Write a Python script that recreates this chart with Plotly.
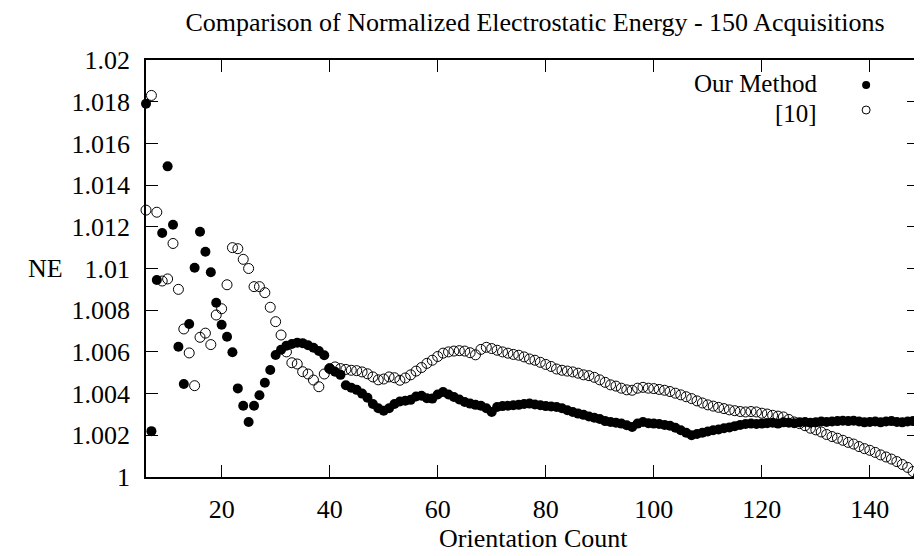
import plotly.graph_objects as go

orientation_count = list(range(6, 150))

our_method = [
    1.0179, 1.0022, 1.00945, 1.0117, 1.0149, 1.0121, 1.00625, 1.00446, 1.00734, 1.01004,
    1.01176, 1.0108, 1.00982, 1.00836, 1.0073, 1.00673, 1.00598, 1.00425, 1.00342, 1.00264,
    1.00342, 1.00392, 1.00452, 1.00513, 1.00585, 1.0061, 1.0063, 1.00638, 1.00644, 1.00642,
    1.00632, 1.0062, 1.00604, 1.00584,
    1.0052, 1.00505, 1.0049, 1.0044, 1.00428, 1.00418, 1.004, 1.0038, 1.0035, 1.0033,
    1.00318, 1.0033, 1.0035, 1.00362, 1.00366, 1.0037, 1.00386, 1.0039, 1.00378, 1.00376,
    1.00396, 1.00408, 1.00396, 1.00384, 1.00372, 1.0036, 1.00352, 1.00346, 1.00342, 1.0033,
    1.00312, 1.00336, 1.0034, 1.00342, 1.00344, 1.00346, 1.0035, 1.00352, 1.00348, 1.00344,
    1.0034, 1.00338, 1.00336, 1.0033, 1.0032, 1.00312, 1.00304, 1.00298, 1.0029, 1.00284,
    1.00278, 1.00268, 1.00264, 1.0026, 1.00256, 1.00248, 1.0024, 1.00256, 1.00264, 1.00258,
    1.00256, 1.00254, 1.0025, 1.00246, 1.00236, 1.00224, 1.00212, 1.002, 1.00206, 1.00212,
    1.00218, 1.00224, 1.00228, 1.00234, 1.00238, 1.00244, 1.0025, 1.00254, 1.00256, 1.00254,
    1.00256, 1.00258, 1.0026, 1.00256, 1.00262, 1.0026, 1.00258, 1.00262, 1.00264, 1.0026,
    1.00262, 1.00266, 1.00264, 1.00266, 1.00268, 1.0027, 1.00268, 1.0027, 1.00266, 1.00262,
    1.00264, 1.00266, 1.00262, 1.00266, 1.00268, 1.00264, 1.00262, 1.00266, 1.00268, 1.00266,
]

ref10 = [
    1.0128, 1.0183, 1.0127, 1.0094, 1.0095, 1.0112, 1.009, 1.0071, 1.00595, 1.00438,
    1.0067, 1.0069, 1.00635, 1.00777, 1.00807, 1.00922, 1.011, 1.01095, 1.01044, 1.01,
    1.00913, 1.00913, 1.00884, 1.00814, 1.00745, 1.00681, 1.006, 1.00548, 1.00542, 1.00505,
    1.00494, 1.00465, 1.00433, 1.00494,
    1.0052, 1.00528, 1.0052, 1.00516, 1.00512, 1.0051, 1.00504, 1.00495, 1.0048, 1.00466,
    1.0047, 1.0048, 1.00476, 1.00464, 1.00475, 1.0049, 1.00508, 1.00525, 1.00545, 1.0056,
    1.00578, 1.00594, 1.006, 1.00604, 1.00606, 1.00604, 1.00596, 1.00586, 1.00612, 1.00622,
    1.00616, 1.00608, 1.006, 1.00594, 1.00588, 1.00584, 1.00576, 1.00566, 1.0056, 1.0055,
    1.0054, 1.0053, 1.00518, 1.00512, 1.00508, 1.00504, 1.00498, 1.0049, 1.00486, 1.00478,
    1.00466, 1.00454, 1.00442, 1.00436, 1.00426, 1.00418, 1.00416, 1.00426, 1.0043, 1.00426,
    1.00424, 1.0042, 1.00416, 1.0041, 1.00402, 1.00394, 1.00385, 1.00376, 1.00365, 1.00355,
    1.00346, 1.0034, 1.00334, 1.00328, 1.00322, 1.00318, 1.00314, 1.00312, 1.00314, 1.00312,
    1.00306, 1.00302, 1.00296, 1.00292, 1.00288, 1.00276, 1.00264, 1.00256, 1.00246, 1.00234,
    1.00226, 1.00216, 1.00204, 1.00194, 1.00186, 1.00176, 1.00166, 1.00158, 1.00146, 1.00136,
    1.00128, 1.00118, 1.00106, 1.00096, 1.00086, 1.00074, 1.0006, 1.00046, 1.00026, 1.00005,
]

x_tick_vals = [20, 40, 60, 80, 100, 120, 140]
y_tick_vals = [1.0, 1.002, 1.004, 1.006, 1.008, 1.01, 1.012, 1.014, 1.016, 1.018, 1.02]
y_tick_text = ["1", "1.002", "1.004", "1.006", "1.008", "1.01", "1.012", "1.014", "1.016", "1.018", "1.02"]

series_names = ["Our Method", "[10]"]

FONT = "Liberation Serif"
FS = 26
LEG_FS = 25

# The page body adds an 8px offset; figure is sized to compensate.
W, H = 914, 548
L, R, T, B = 138, 1, 52, 79
PW, PH = W - L - R, H - T - B  # 775 x 417


def px_x(sx):
    return (sx - 8 - L) / PW


def px_y(sy):
    return (H - B - (sy - 8)) / PH


fig = go.Figure()
fig.add_trace(go.Scatter(
    x=orientation_count, y=our_method, mode="markers", name=series_names[0],
    marker=dict(symbol="circle", size=10, color="black", line=dict(width=0)),
    showlegend=False, cliponaxis=False,
))
fig.add_trace(go.Scatter(
    x=orientation_count, y=ref10, mode="markers", name=series_names[1],
    marker=dict(symbol="circle-open", size=10, color="black", line=dict(width=1)),
    showlegend=False, cliponaxis=False,
))

axis_common = dict(
    showline=True, linecolor="black", linewidth=1.5, mirror="ticks",
    ticks="inside", ticklen=12, tickwidth=1, tickcolor="black",
    showgrid=False, zeroline=False,
    tickfont=dict(family=FONT, size=FS, color="black"),
)

fig.update_xaxes(range=[6, 149.1], tickvals=x_tick_vals, ticklabelstandoff=8, **axis_common)
fig.update_yaxes(range=[1.0, 1.02], tickvals=y_tick_vals, ticktext=y_tick_text,
                 ticklabelstandoff=9, **axis_common)

fig.update_layout(
    width=W, height=H,
    margin=dict(l=L, r=R, t=T, b=B),
    paper_bgcolor="white", plot_bgcolor="white",
    font=dict(family=FONT, color="black", size=FS),
    title=dict(text="Comparison of Normalized Electrostatic Energy - 150 Acquisitions",
               x=(535 - 8) / W, xanchor="center",
               y=1 - (22 - 8) / H, yanchor="middle",
               font=dict(family=FONT, size=FS, color="black")),
    annotations=[
        dict(text="Orientation Count", xref="paper", yref="paper", x=px_x(535), y=px_y(538),
             showarrow=False, xanchor="center", yanchor="middle",
             font=dict(family=FONT, size=FS)),
        dict(text="NE", xref="paper", yref="paper", x=px_x(45), y=px_y(268),
             showarrow=False, xanchor="center", yanchor="middle",
             font=dict(family=FONT, size=FS)),
        dict(text=series_names[0], xref="paper", yref="paper", x=px_x(821),
             y=px_y(84), showarrow=False, xanchor="right", yanchor="middle",
             font=dict(family=FONT, size=LEG_FS)),
        dict(text=series_names[1], xref="paper", yref="paper", x=px_x(821),
             y=px_y(113), showarrow=False, xanchor="right", yanchor="middle",
             font=dict(family=FONT, size=LEG_FS)),
    ],
    shapes=[
        dict(type="circle", xref="paper", yref="paper", xsizemode="pixel", ysizemode="pixel",
             xanchor=px_x(868), yanchor=px_y(85),
             x0=-4, x1=4, y0=-4, y1=4, fillcolor="black", line=dict(color="black", width=0)),
        dict(type="circle", xref="paper", yref="paper", xsizemode="pixel", ysizemode="pixel",
             xanchor=px_x(868), yanchor=px_y(110),
             x0=-4, x1=4, y0=-4, y1=4, fillcolor="rgba(0,0,0,0)", line=dict(color="black", width=1)),
    ],
)

fig.write_html("out.html")
